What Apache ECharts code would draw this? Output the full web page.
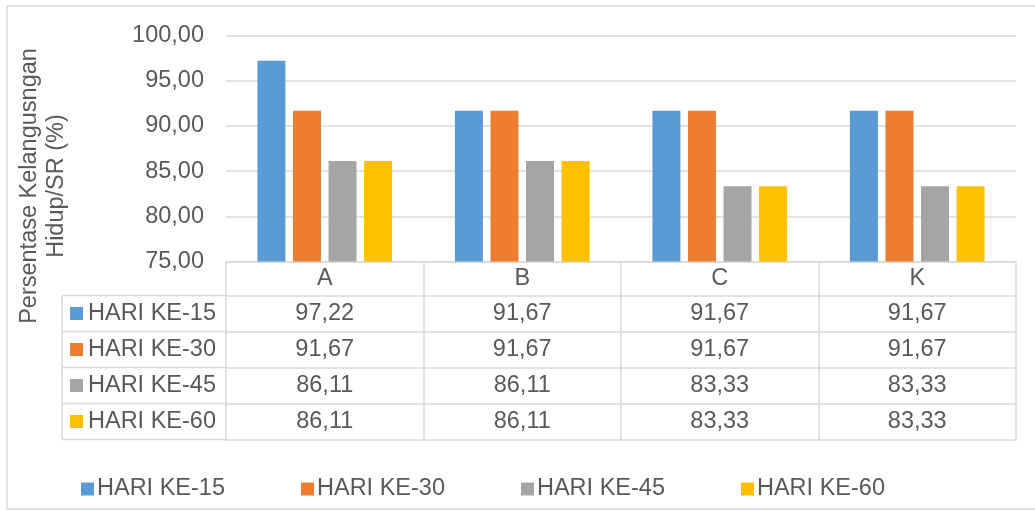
<!DOCTYPE html>
<html>
<head>
<meta charset="utf-8">
<script src="https://cdn.jsdelivr.net/npm/echarts@6/dist/echarts.min.js"></script>
<style>
  html, body { margin: 0; padding: 0; background: #ffffff; }
  #chart { width: 1035px; height: 510px; }
</style>
</head>
<body>
<div id="chart"></div>
<script>
// Perlakuan (categories)
const categories = ['A', 'B', 'C', 'K'];
// Survival rate per observation day (%)
const seriesNames = ['HARI KE-15', 'HARI KE-30', 'HARI KE-45', 'HARI KE-60'];
const hari15 = [97.22, 91.67, 91.67, 91.67];
const hari30 = [91.67, 91.67, 91.67, 91.67];
const hari45 = [86.11, 86.11, 83.33, 83.33];
const hari60 = [86.11, 86.11, 83.33, 83.33];
const yTicks = { min: 75, max: 100, interval: 5 };
const yTitle = ['Persentase Kelangusngan', 'Hidup/SR (%)'];

const seriesValues = [hari15, hari30, hari45, hari60];
const colors = ['#5B9BD5', '#ED7D31', '#A5A5A5', '#FFC000'];
const textColor = '#595959';
const lineColor = '#d9d9d9';
const font = "'Liberation Sans', Arial, sans-serif";
const fs = 23.5;

const fmt = v => Number(v).toFixed(2).replace('.', ',');

// grid geometry (px)
const gridLeft = 226, gridRight = 19, gridTop = 35.5, gridBottom = 248.5;
const plotBottom = 510 - gridBottom;     // y of the 75 line
const headerH = 34, rowH = 36;
const tableLeft = 62;

const chart = echarts.init(document.getElementById('chart'), null, { renderer: 'canvas' });

// one category axis per data-table row, stacked below the plot
const xAxes = [{
  type: 'category',
  data: categories,
  position: 'bottom',
  offset: 0,
  axisLine: { show: true, lineStyle: { color: lineColor, width: 1.5 } },
  axisTick: { show: true, interval: 0, length: headerH, lineStyle: { color: lineColor, width: 1.5 } },
  axisLabel: { color: textColor, fontSize: fs, fontFamily: font, margin: headerH / 2, verticalAlign: 'middle', interval: 0 }
}];
seriesValues.forEach((vals, i) => {
  xAxes.push({
    type: 'category',
    data: vals.map(fmt),
    position: 'bottom',
    offset: headerH + i * rowH,
    axisLine: { show: true, lineStyle: { color: lineColor, width: 1.5 } },
    axisTick: { show: true, interval: 0, length: rowH, lineStyle: { color: lineColor, width: 1.5 } },
    axisLabel: { color: textColor, fontSize: fs, fontFamily: font, margin: rowH / 2, verticalAlign: 'middle', interval: 0 }
  });
});
// closing line under the last row
xAxes.push({
  type: 'category',
  data: categories,
  position: 'bottom',
  offset: headerH + seriesValues.length * rowH,
  axisLine: { show: true, lineStyle: { color: lineColor, width: 1.5 } },
  axisTick: { show: false },
  axisLabel: { show: false }
});

// left column of the data table: legend keys and series names
const tableTop = plotBottom + headerH;
const tableBottom = tableTop + seriesValues.length * rowH;
const graphics = [
  {
    type: 'rect', silent: true,
    shape: { x: 7, y: 6, width: 1100, height: 503 },
    style: { fill: 'none', stroke: '#d9d9d9', lineWidth: 1.5 }
  },
  {
    type: 'text', silent: true,
    x: 43, y: 186, rotation: Math.PI / 2,
    style: {
      text: yTitle.join('\n'), fill: textColor, font: fs + 'px ' + font,
      align: 'center', verticalAlign: 'middle', lineHeight: 27
    }
  },
  {
    type: 'line', silent: true,
    shape: { x1: tableLeft, y1: tableTop, x2: tableLeft, y2: tableBottom },
    style: { stroke: lineColor, lineWidth: 1.5 }
  }
];
seriesNames.forEach((name, i) => {
  const y0 = tableTop + i * rowH;
  graphics.push({
    type: 'line', silent: true,
    shape: { x1: tableLeft, y1: y0, x2: gridLeft, y2: y0 },
    style: { stroke: lineColor, lineWidth: 1.5 }
  });
  graphics.push({
    type: 'rect', silent: true,
    shape: { x: 70, y: y0 + rowH / 2 - 6.5, width: 13, height: 13 },
    style: { fill: colors[i] }
  });
  graphics.push({
    type: 'text', silent: true,
    x: 88, y: y0 + rowH / 2,
    style: { text: name, fill: textColor, font: fs + 'px ' + font, align: 'left', verticalAlign: 'middle' }
  });
});
graphics.push({
  type: 'line', silent: true,
  shape: { x1: tableLeft, y1: tableBottom, x2: gridLeft, y2: tableBottom },
  style: { stroke: lineColor, lineWidth: 1.5 }
});

const option = {
  backgroundColor: '#ffffff',
  animation: false,
  color: colors,
  textStyle: { fontFamily: font, color: textColor },
  grid: { left: gridLeft, right: gridRight, top: gridTop, bottom: gridBottom, containLabel: false },
  legend: {
    data: seriesNames,
    left: 76,
    top: 472,
    icon: 'rect',
    itemWidth: 13,
    itemHeight: 13,
    itemGap: 76,
    textStyle: { color: textColor, fontSize: fs, fontFamily: font, padding: [0, 0, 0, -2] }
  },
  xAxis: xAxes,
  yAxis: {
    type: 'value',
    min: yTicks.min,
    max: yTicks.max,
    interval: yTicks.interval,
    axisLine: { show: false },
    axisTick: { show: false },
    splitLine: { show: true, lineStyle: { color: lineColor, width: 1.5 } },
    axisLabel: { color: textColor, fontSize: fs, fontFamily: font, margin: 22, formatter: v => fmt(v) }
  },
  series: seriesNames.map((name, i) => ({
    name: name,
    type: 'bar',
    xAxisIndex: 0,
    data: seriesValues[i],
    barWidth: 28,
    barGap: '27%',
    itemStyle: { color: colors[i] }
  })),
  graphic: graphics
};

chart.setOption(option);
</script>
</body>
</html>
